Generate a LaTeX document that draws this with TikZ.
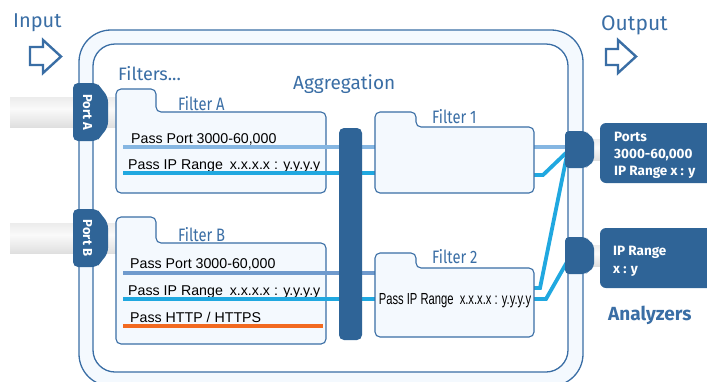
\documentclass[tikz,border=0pt]{standalone}
\usepackage{graphicx}
\usepackage{fontspec}
\setmainfont{Fira Sans}
\newfontfamily\arialfont{Liberation Sans}
\definecolor{frameblue}{HTML}{3A6EA5}
\definecolor{darkblue}{HTML}{2F6497}
\definecolor{tubefill}{HTML}{F4F9FE}
\definecolor{lightline}{HTML}{85B6E2}
\definecolor{midline}{HTML}{6F9ACD}
\definecolor{brightline}{HTML}{20A8E0}
\definecolor{httporange}{HTML}{F26A21}
\pgfdeclareverticalshading{cable}{100bp}{color(0bp)=(gray!55); color(25bp)=(gray!25);
  color(55bp)=(gray!4); color(75bp)=(gray!15); color(100bp)=(gray!60)}
\newcommand\narrowtext[1]{\scalebox{0.82}[1]{#1}}
\begin{document}
\begin{tikzpicture}[x=1pt,y=-1pt,
      folder/.style={draw=frameblue, line width=1.1pt, fill=tubefill, rounded corners=5pt},
      rule/.style={line width=3.8pt},
      bigarrow/.style={draw=frameblue, line width=2.4pt, fill=white, line join=miter},
      heading/.style={text=frameblue, inner sep=0pt, anchor=base west, font=\fontsize{19}{19}\selectfont},
      tablabel/.style={text=frameblue, inner sep=0pt, anchor=base west, font=\fontsize{18}{18}\selectfont},
      passtext/.style={inner sep=0pt, anchor=base west, font=\arialfont\fontsize{14.2}{14.2}\selectfont},
      portlabel/.style={text=white, inner sep=0pt, rotate=-90, font=\bfseries\fontsize{13}{13}\selectfont},
      boxtext/.style={text=white, inner sep=0pt, anchor=base west, font=\bfseries\fontsize{13.5}{13.5}\selectfont}]
      \useasboundingbox (0,0) rectangle (707,381);
      \clip (0,0) rectangle (707,381);
      % frame
      \draw[frameblue, line width=1.3pt, fill=tubefill, rounded corners=32pt] (79,30) rectangle (583,386);
      \draw[frameblue, line width=1.3pt, fill=white, rounded corners=22pt] (93,44) rectangle (568,372);
      % input and output
      \path (13,27) node[heading, font=\fontsize{20}{20}\selectfont] (input) {Input};
      \draw[bigarrow] (30,47) -- (43,47) -- (43,40) -- (61,56.5) -- (43,73) -- (43,65) -- (30,65) -- cycle;
      \path (601,30) node[heading, font=\fontsize{21}{21}\selectfont] (output) {Output};
      \draw[bigarrow] (606,49) -- (618,49) -- (618,40) -- (636,56.5) -- (618,73) -- (618,65) -- (606,65) -- cycle;
      % cables and ports
      \foreach \y/\name in {112/A, 238/B} {
        \shade[shading=cable] (10,\y-15) rectangle (116,\y+15);
        \fill[darkblue, rounded corners=5pt] (73,\y-29) -- (97,\y-29) -- (101,\y-24) -- (108,\y-15)
          -- (108,\y+15) -- (101,\y+24) -- (97,\y+29) -- (73,\y+29) -- cycle;
        \path (87.5,\y) node[portlabel] (port\name) {Port \name};
      }
      % filters
      \path (118,80) node[heading, font=\fontsize{18}{18}\selectfont] (filters) {Filters...};
      \path (293,89) node[heading] (aggregation) {Aggregation};
      \draw[folder] (116,193) -- (116,89) -- (156,89) -- (156,112) -- (326,112) -- (326,193) -- cycle;
      \draw[folder] (116,344) -- (116,217) -- (156,217) -- (156,243) -- (326,243) -- (326,344) -- cycle;
      \path (178,110) node[tablabel] (labA) {\narrowtext{Filter A}};
      \path (178,241) node[tablabel] (labB) {\narrowtext{Filter B}};
      \path (131,143) node[passtext] (a1) {Pass Port 3000-60,000};
      \path (128,169) node[passtext] (a2) {Pass IP Range \hspace{3pt}x.x.x.x : y.y.y.y};
      \path (130,268) node[passtext] (b1) {Pass Port 3000-60,000};
      \path (128,295) node[passtext] (b2) {Pass IP Range \hspace{3pt}x.x.x.x : y.y.y.y};
      \path (130,322) node[passtext] (b3) {Pass HTTP / HTTPS};
      % line ends
      \coordinate (a1s) at (123,147);   \coordinate (a2s) at (123,173);
      \coordinate (b1s) at (123,273);   \coordinate (b2s) at (123,299);
      \coordinate (b3s) at (123,326);   \coordinate (b3e) at (323,326);
      \coordinate (f1w1) at (375,147);  \coordinate (f1w2) at (375,173);
      \coordinate (f2w1) at (375,273);  \coordinate (f2w2) at (375,299);
      \coordinate (f1e1) at (534,147);  \coordinate (f1e2) at (534,175);
      \coordinate (f2e1) at (534,288);  \coordinate (f2e2) at (534,299);
      \coordinate (outA1) at (567,147); \coordinate (outA2) at (567,152);
      \coordinate (outA3) at (567,155); \coordinate (outB) at (567,262);
      \draw[rule, lightline] (a1s) -- (f1w1);
      \draw[rule, brightline] (a2s) -- (f1w2);
      \draw[rule, midline] (b1s) -- (f2w1);
      \draw[rule, brightline] (b2s) -- (f2w2);
      \draw[rule, httporange] (b3s) -- (b3e);
      \draw[rule, lightline] (f1e1) -- (outA1);
      \draw[rule, brightline] (f1e2) -- ++(9,0) -- (outA2);
      \draw[rule, brightline] (f2e1) -- ++(6,0) -- (outA3);
      \draw[rule, brightline] (f2e2) -- ++(12,0) -- (outB);
      % aggregation bar
      \fill[darkblue, rounded corners=5pt] (339,128) rectangle (362,340);
      \draw[folder] (375,193) -- (375,112) -- (416,112) -- (416,127) -- (534,127) -- (534,193) -- cycle;
      \draw[folder] (375,337) -- (375,253) -- (416,253) -- (416,268) -- (534,268) -- (534,337) -- cycle;
      \path (432,123) node[tablabel] (lab1) {\narrowtext{Filter 1}};
      \path (432,263) node[tablabel] (lab2) {\narrowtext{Filter 2}};
      \path (455,304) node[passtext, anchor=base] (f2text)
        {\scalebox{0.7}[1]{\fontsize{16}{16}\selectfont Pass IP Range\ \ x.x.x.x : y.y.y.y}};
      % output connectors and analyzers
      \foreach \y/\top in {149.5/123, 255.5/228} {
        \shade[shading=cable] (592,\y-10.5) rectangle (601,\y+10.5);
        \fill[darkblue, rounded corners=4pt] (565,\y-18.5) -- (586,\y-18.5) -- (589,\y-14.5) -- (594,\y-11)
          -- (594,\y+12) -- (589,\y+15.5) -- (586,\y+18.5) -- (565,\y+18.5) -- cycle;
        \fill[darkblue, rounded corners=6pt] (600,\top) rectangle (720,\top+60);
      }
      \path (614,141) node[boxtext] (anA1) {Ports};
      \path (614,158) node[boxtext] (anA2) {3000-60,000};
      \path (614,175) node[boxtext] (anA3) {IP Range x : y};
      \path (613,255) node[boxtext] (anB1) {IP Range};
      \path (613,273) node[boxtext] (anB2) {x : y};
      \path (608,320) node[heading, font=\bfseries\fontsize{19}{19}\selectfont] (analyzers) {Analyzers};
     \end{tikzpicture}
\end{document}
